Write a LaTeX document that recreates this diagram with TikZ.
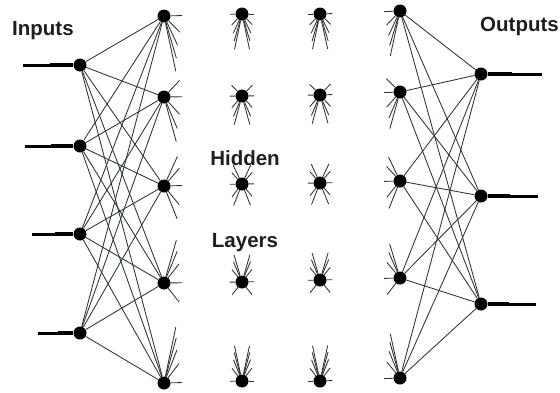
\documentclass[tikz,border=0pt]{standalone}
\usepackage{fontspec}
\setmainfont{Liberation Sans}
\usetikzlibrary{calc}
\definecolor{wirecol}{RGB}{40,52,52}
\begin{document}
\begin{tikzpicture}[x=1pt,y=-1pt,
  neuron/.style={circle,fill=black,inner sep=0pt,minimum size=13pt},
  wire/.style={draw=wirecol,line width=0.85pt},
  inwire/.style={draw=black,line width=3pt},
  inwirethick/.style={draw=black,line width=4pt},
  lbl/.style={font=\fontsize{20.5}{22}\selectfont\bfseries,text=black!88,inner sep=0pt}]
\useasboundingbox (0,0) rectangle (560,392);
% neurons
\foreach \y [count=\i] in {65,146,234,333} \node[neuron] (I\i) at (80,\y) {};
\foreach \y [count=\i] in {16,97,186,283,383} \node[neuron] (A\i) at (164,\y) {};
\foreach \y [count=\i] in {14,96,184,282,381} \node[neuron] (B\i) at (242,\y) {};
\foreach \y [count=\i] in {14,95,183,280,381} \node[neuron] (C\i) at (320,\y) {};
\foreach \y [count=\i] in {11,92,181,278,378} \node[neuron] (D\i) at (400,\y) {};
\foreach \y [count=\i] in {74,196,304} \node[neuron] (O\i) at (481,\y) {};
% free ends of input/output lines
\foreach \x/\y [count=\i] in {23/65,25/146,32/234,38/333} \coordinate (in\i) at (\x,\y);
\foreach \x/\y [count=\i] in {542/74,538/196,536/304} \coordinate (out\i) at (\x,\y);
% input and output lines
\foreach \i in {1,...,4} {
  \draw[inwire] (in\i) -- (I\i);
  \draw[inwirethick] ($(in\i)!0.48!(I\i)$) -- (I\i);
}
\foreach \i in {1,2,3} {
  \draw[inwire] (O\i) -- (out\i);
  \draw[inwirethick] (O\i) -- ($(O\i)!0.5!(out\i)$);
}
% full connections
\foreach \i in {1,...,4} \foreach \j in {1,...,5} \draw[wire] (I\i) -- (A\j);
\foreach \i in {1,...,5} \foreach \j in {1,2,3} \draw[wire] (D\i) -- (O\j);
% truncated stubs
\foreach \i in {1,...,5} \foreach \j in {1,...,5} {
  \draw[wire] let \p1=($(B\j)-(A\i)$), \n1={veclen(\x1,\y1)}, \n2={8+0.13*\n1} in
    (A\i) -- ($(A\i)!\n2!(B\j)$);
  \draw[wire] let \p1=($(A\j)-(B\i)$), \n1={veclen(\x1,\y1)}, \n2={6+0.08*\n1} in
    (B\i) -- ($(B\i)!\n2!(A\j)$);
  \draw[wire] let \p1=($(C\j)-(B\i)$), \n1={veclen(\x1,\y1)}, \n2={6+0.08*\n1} in
    (B\i) -- ($(B\i)!\n2!(C\j)$);
  \draw[wire] let \p1=($(B\j)-(C\i)$), \n1={veclen(\x1,\y1)}, \n2={6+0.08*\n1} in
    (C\i) -- ($(C\i)!\n2!(B\j)$);
  \draw[wire] let \p1=($(D\j)-(C\i)$), \n1={veclen(\x1,\y1)}, \n2={6+0.08*\n1} in
    (C\i) -- ($(C\i)!\n2!(D\j)$);
  \draw[wire] let \p1=($(C\j)-(D\i)$), \n1={veclen(\x1,\y1)}, \n2={8+0.1*\n1} in
    (D\i) -- ($(D\i)!\n2!(C\j)$);
}
% labels
\node[lbl,anchor=base west] (tin) at (12,35) {Inputs};
\node[lbl,anchor=base west] (tout) at (480,31) {Outputs};
\node[lbl,anchor=base] (thid) at (245,165) {Hidden};
\node[lbl,anchor=base] (tlay) at (245,247) {Layers};
\end{tikzpicture}
\end{document}
